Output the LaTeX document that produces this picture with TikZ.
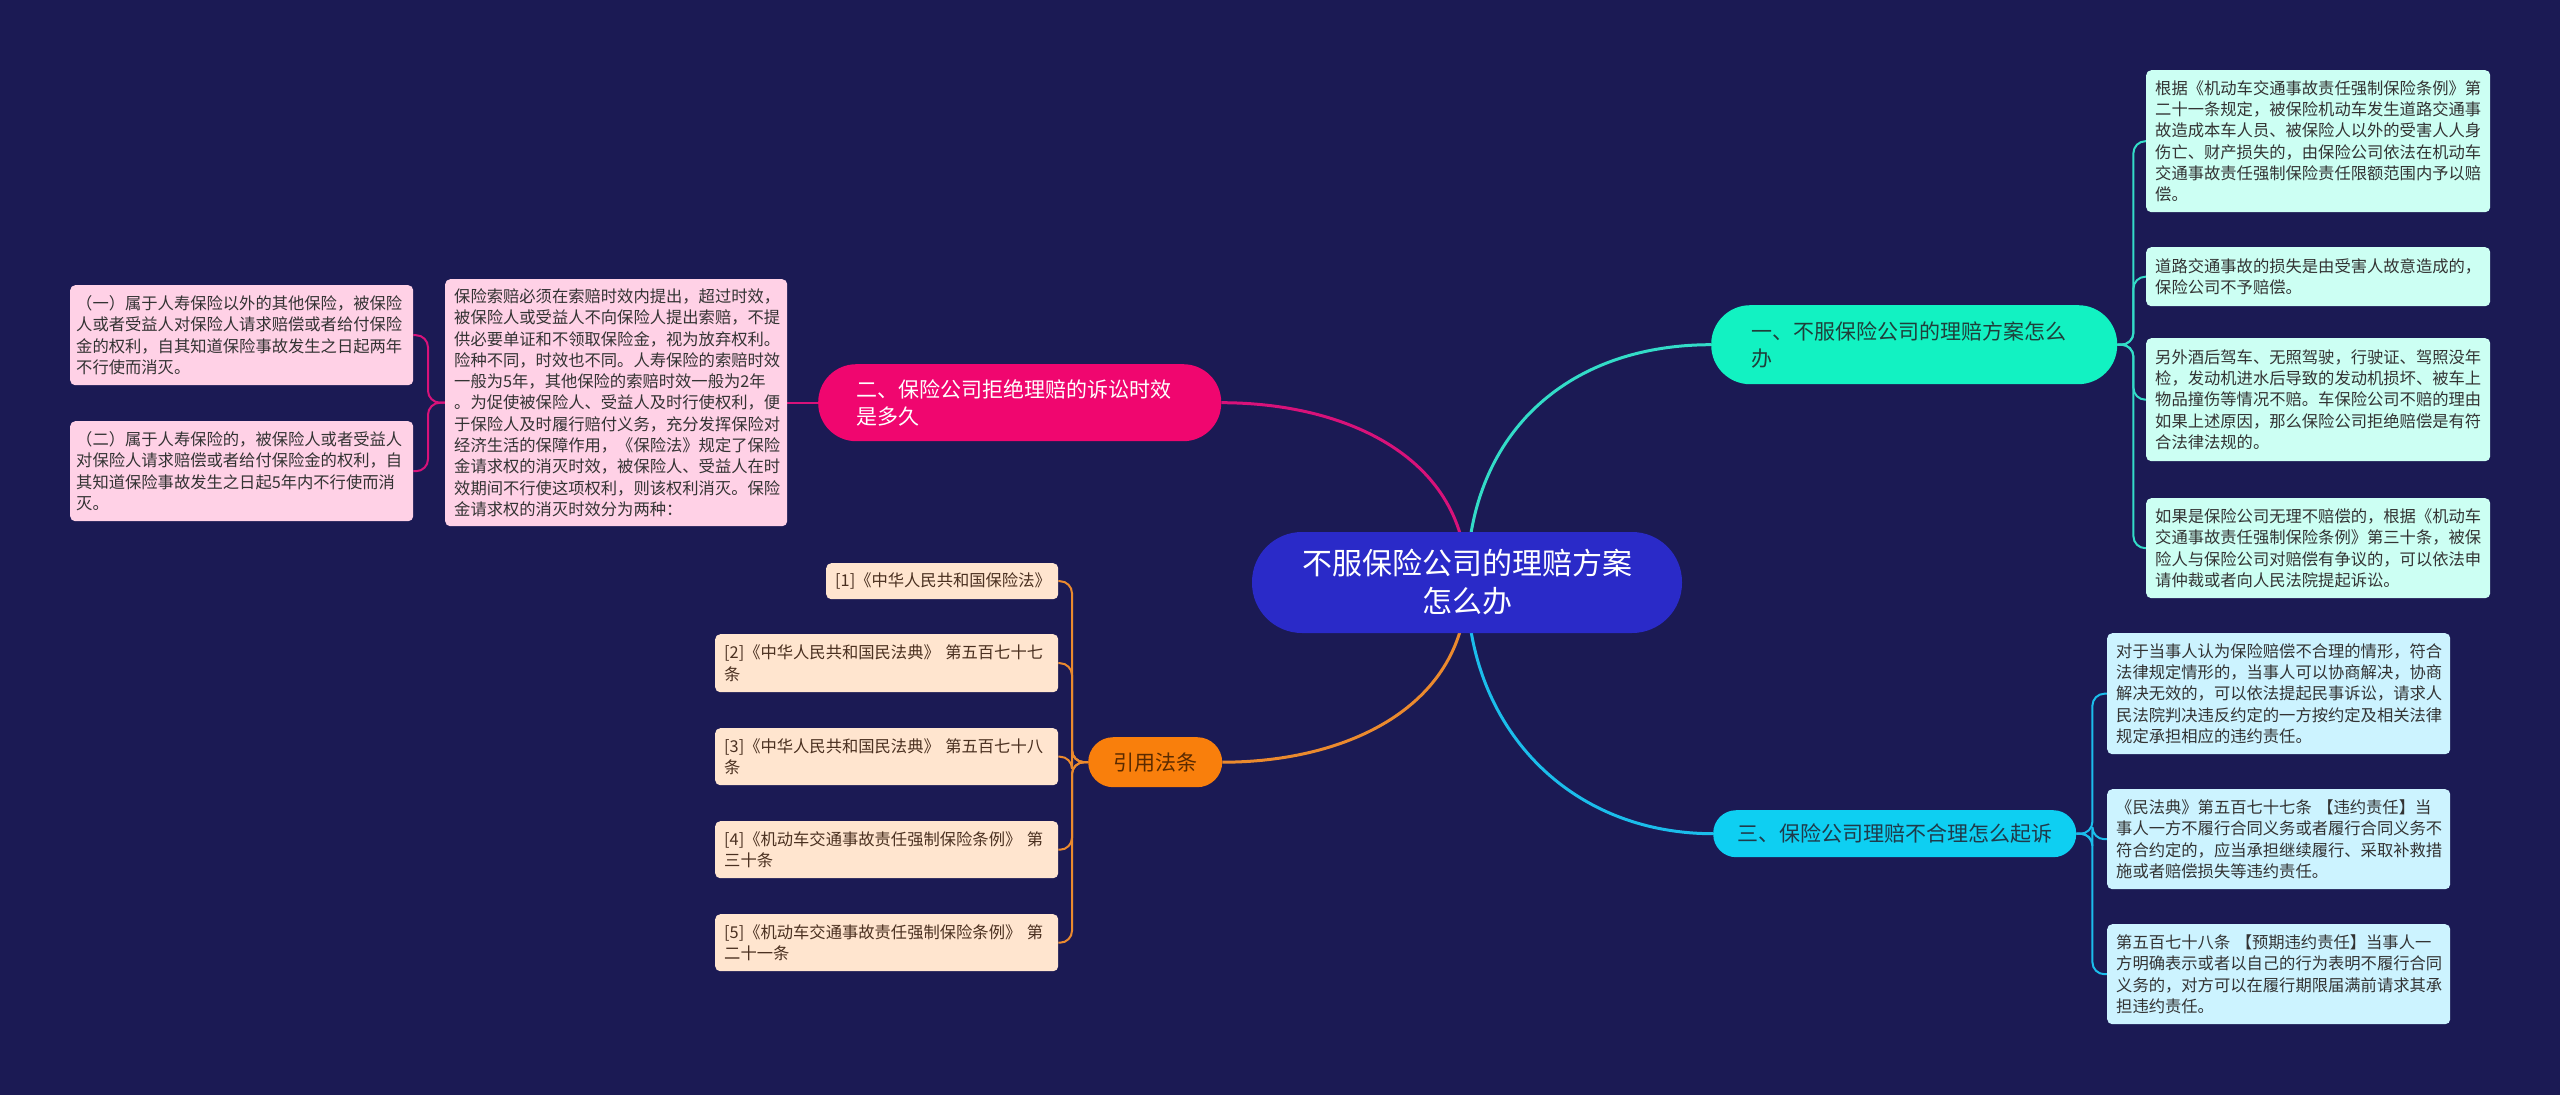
\documentclass[tikz,border=0pt]{standalone}
\usepackage{fontspec}
\setmainfont{Noto Sans CJK SC}
\usetikzlibrary{backgrounds}
\definecolor{bgc}{HTML}{1B1A54}
\definecolor{rootc}{HTML}{2A2AC8}
\definecolor{tealb}{HTML}{12F2C2}
\definecolor{teall}{HTML}{33DCC8}
\definecolor{tealf}{HTML}{CCFFF3}
\definecolor{pinkb}{HTML}{F0066F}
\definecolor{pinkl}{HTML}{D8127A}
\definecolor{pinkf}{HTML}{FFD1E6}
\definecolor{skyb}{HTML}{0ECFF2}
\definecolor{skyl}{HTML}{1BBDEB}
\definecolor{skyf}{HTML}{CCF3FF}
\definecolor{orab}{HTML}{F97F0C}
\definecolor{oral}{HTML}{EB8A2E}
\definecolor{oraf}{HTML}{FFE5CF}
\definecolor{leaftext}{HTML}{333333}
\definecolor{tealtext}{HTML}{1F3F3A}
\definecolor{skytext}{HTML}{1F3A4A}
\definecolor{oratext}{HTML}{5A2A00}
\definecolor{oraleaftext}{HTML}{4A3020}
\tikzset{
  leafbox/.style={rectangle, rounded corners=5pt, anchor=north west, align=left,
    inner xsep=9pt, inner ysep=0pt, font=\fontsize{16.3}{21.3}\selectfont, text=leaftext},
  branchbox/.style={rectangle, anchor=north west, inner ysep=0pt,
    font=\fontsize{21}{27}\selectfont},
  mainline/.style={line width=3pt},
  subline/.style={line width=2pt, rounded corners=12pt},
}
\begin{document}
\begin{tikzpicture}[x=1pt,y=-1pt]
\useasboundingbox (0,0) rectangle (2560,1095);
% root
\node[rectangle, rounded corners=50pt, fill=rootc, text=white, align=center,
  minimum width=430pt, minimum height=101pt, inner sep=0pt,
  font=\fontsize{30}{38}\selectfont] (root) at (1467,582.5)
  {不服保险公司的理赔方案\\怎么办};
% branches
\node[branchbox, fill=tealb, rounded corners=39pt, minimum width=406pt, minimum height=79pt,
  inner xsep=40pt, text width=326pt, align=left, text=tealtext] (b1) at (1711,305)
  {一、不服保险公司的理赔方案怎么\\办};
\node[branchbox, fill=pinkb, rounded corners=38pt, minimum width=403pt, minimum height=77pt,
  inner xsep=38pt, text width=327pt, align=left, text=white] (b2) at (818,364)
  {二、保险公司拒绝理赔的诉讼时效\\是多久};
\node[branchbox, fill=skyb, rounded corners=23pt, minimum width=363pt, minimum height=47pt,
  inner xsep=0pt, align=center, text=skytext] (b3) at (1713,810)
  {三、保险公司理赔不合理怎么起诉};
\node[branchbox, fill=orab, rounded corners=25pt, minimum width=134pt, minimum height=50pt,
  inner xsep=0pt, align=center, text=oratext] (bo) at (1088,737)
  {引用法条};
% teal leaves
\node[leafbox, fill=tealf, minimum width=344pt, minimum height=142pt, text width=326pt] (l1a) at (2146,70)
  {根据《机动车交通事故责任强制保险条例》第\\二十一条规定，被保险机动车发生道路交通事\\故造成本车人员、被保险人以外的受害人人身\\伤亡、财产损失的，由保险公司依法在机动车\\交通事故责任强制保险责任限额范围内予以赔\\偿。};
\node[leafbox, fill=tealf, minimum width=344pt, minimum height=59pt, text width=326pt] (l1b) at (2146,247)
  {道路交通事故的损失是由受害人故意造成的，\\保险公司不予赔偿。};
\node[leafbox, fill=tealf, minimum width=344pt, minimum height=123pt, text width=326pt] (l1c) at (2146,338)
  {另外酒后驾车、无照驾驶，行驶证、驾照没年\\检，发动机进水后导致的发动机损坏、被车上\\物品撞伤等情况不赔。车保险公司不赔的理由\\如果上述原因，那么保险公司拒绝赔偿是有符\\合法律法规的。};
\node[leafbox, fill=tealf, minimum width=344pt, minimum height=100pt, text width=326pt] (l1d) at (2146,498)
  {如果是保险公司无理不赔偿的，根据《机动车\\交通事故责任强制保险条例》第三十条，被保\\险人与保险公司对赔偿有争议的，可以依法申\\请仲裁或者向人民法院提起诉讼。};
% sky leaves
\node[leafbox, fill=skyf, minimum width=343pt, minimum height=121pt, text width=325pt] (l3a) at (2107,633)
  {对于当事人认为保险赔偿不合理的情形，符合\\法律规定情形的，当事人可以协商解决，协商\\解决无效的，可以依法提起民事诉讼，请求人\\民法院判决违反约定的一方按约定及相关法律\\规定承担相应的违约责任。};
\node[leafbox, fill=skyf, minimum width=343pt, minimum height=100pt, text width=325pt] (l3b) at (2107,789)
  {《民法典》第五百七十七条 【违约责任】当\\事人一方不履行合同义务或者履行合同义务不\\符合约定的，应当承担继续履行、采取补救措\\施或者赔偿损失等违约责任。};
\node[leafbox, fill=skyf, minimum width=343pt, minimum height=100pt, text width=325pt] (l3c) at (2107,924)
  {第五百七十八条 【预期违约责任】当事人一\\方明确表示或者以自己的行为表明不履行合同\\义务的，对方可以在履行期限届满前请求其承\\担违约责任。};
% pink leaves
\node[leafbox, fill=pinkf, minimum width=342pt, minimum height=247pt, text width=324pt] (pbig) at (445,279)
  {保险索赔必须在索赔时效内提出，超过时效，\\被保险人或受益人不向保险人提出索赔，不提\\供必要单证和不领取保险金，视为放弃权利。\\险种不同，时效也不同。人寿保险的索赔时效\\一般为5年，其他保险的索赔时效一般为2年\\。为促使被保险人、受益人及时行使权利，便\\于保险人及时履行赔付义务，充分发挥保险对\\经济生活的保障作用，《保险法》规定了保险\\金请求权的消灭时效，被保险人、受益人在时\\效期间不行使这项权利，则该权利消灭。保险\\金请求权的消灭时效分为两种：};
\node[leafbox, fill=pinkf, minimum width=343pt, minimum height=100pt, text width=331pt, inner xsep=6pt] (p1) at (70,285)
  {（一）属于人寿保险以外的其他保险，被保险\\人或者受益人对保险人请求赔偿或者给付保险\\金的权利，自其知道保险事故发生之日起两年\\不行使而消灭。};
\node[leafbox, fill=pinkf, minimum width=343pt, minimum height=100pt, text width=331pt, inner xsep=6pt] (p2) at (70,421)
  {（二）属于人寿保险的，被保险人或者受益人\\对保险人请求赔偿或者给付保险金的权利，自\\其知道保险事故发生之日起5年内不行使而消\\灭。};
% orange leaves
\node[leafbox, fill=oraf, minimum width=232pt, minimum height=36pt, text width=214pt, text=oraleaftext] (o1) at (826,563)
  {[1]《中华人民共和国保险法》};
\node[leafbox, fill=oraf, minimum width=343pt, minimum height=58pt, text width=325pt, text=oraleaftext] (o2) at (715,634)
  {[2]《中华人民共和国民法典》 第五百七十七\\条};
\node[leafbox, fill=oraf, minimum width=343pt, minimum height=57pt, text width=325pt, text=oraleaftext] (o3) at (715,728)
  {[3]《中华人民共和国民法典》 第五百七十八\\条};
\node[leafbox, fill=oraf, minimum width=343pt, minimum height=57pt, text width=325pt, text=oraleaftext] (o4) at (715,821)
  {[4]《机动车交通事故责任强制保险条例》 第\\三十条};
\node[leafbox, fill=oraf, minimum width=343pt, minimum height=57pt, text width=325pt, text=oraleaftext] (o5) at (715,914)
  {[5]《机动车交通事故责任强制保险条例》 第\\二十一条};
% trunk points
\coordinate[xshift=16pt] (t1) at (b1.east);
\coordinate[xshift=16pt] (t3) at (b3.east);
\coordinate[xshift=-17pt] (tp) at (pbig.west);
\coordinate[xshift=-16pt] (to) at (bo.west);
\begin{pgfonlayer}{background}
\fill[bgc] (0,0) rectangle (2560,1095);
% main connectors
\draw[mainline, teall] (root.center) to[out=90,in=180,looseness=1.1] (b1.west);
\draw[mainline, pinkl] (root.center) to[out=90,in=0,looseness=1.05] (b2.east);
\draw[mainline, skyl] (root.center) to[out=-90,in=180,looseness=1.05] (b3.west);
\draw[mainline, oral] (root.center) to[out=-90,in=0,looseness=1.05] (bo.east);
% sub connectors
\foreach \n in {l1a,l1b,l1c,l1d}
  \draw[subline, teall] (b1.east) -- (t1) -- (t1 |- \n.west) -- (\n.west);
\foreach \n in {l3a,l3b,l3c}
  \draw[subline, skyl] (b3.east) -- (t3) -- (t3 |- \n.west) -- (\n.west);
\draw[line width=2pt, pinkl] (b2.west) -- (pbig.east);
\foreach \n in {p1,p2}
  \draw[subline, pinkl] (pbig.west) -- (tp) -- (tp |- \n.east) -- (\n.east);
\foreach \n in {o1,o2,o3,o4,o5}
  \draw[subline, oral] (bo.west) -- (to) -- (to |- \n.east) -- (\n.east);
\end{pgfonlayer}
\end{tikzpicture}
\end{document}
